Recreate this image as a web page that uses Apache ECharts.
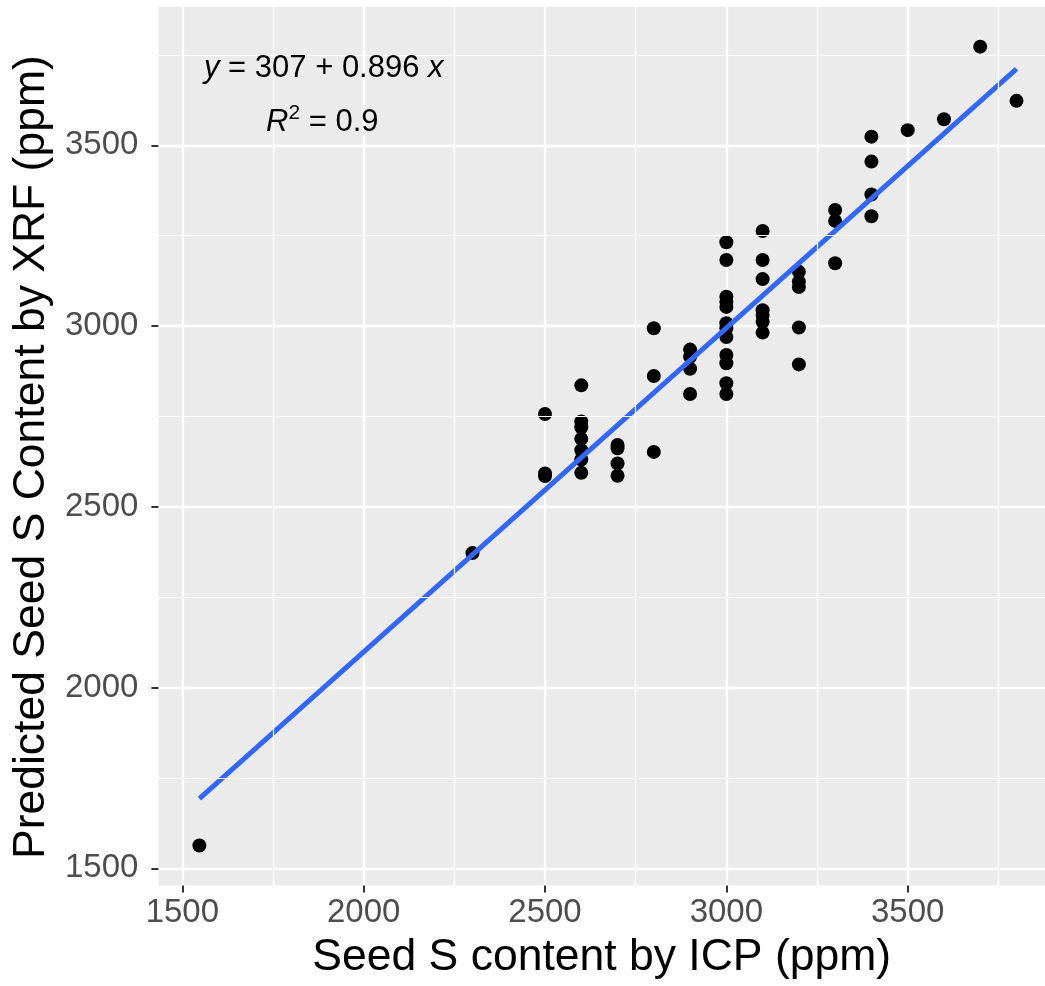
<!DOCTYPE html>
<html>
<head>
<meta charset="utf-8">
<script src="https://cdn.jsdelivr.net/npm/echarts@6/dist/echarts.min.js"></script>
<style>
  html, body { margin: 0; padding: 0; background: #ffffff; }
  #chart { width: 1045px; height: 986px; }
</style>
</head>
<body>
<div id="chart"></div>
<script>
// Seed S content by ICP (x) and predicted by XRF (y), ppm
const icpValues = [
  1547,
  2300,
  2500, 2500, 2500,
  2600, 2600, 2600, 2600, 2600, 2600, 2600,
  2700, 2700, 2700, 2700,
  2800, 2800, 2800,
  2900, 2900, 2900, 2900,
  3000, 3000, 3000, 3000, 3000, 3000, 3000, 3000, 3000, 3000, 3000, 3000,
  3100, 3100, 3100, 3100, 3100, 3100, 3100,
  3200, 3200, 3200, 3200, 3200,
  3300, 3300, 3300,
  3400, 3400, 3400, 3400,
  3500,
  3600,
  3700,
  3800
];
const xrfValues = [
  1563,
  2372,
  2757, 2592, 2585,
  2836, 2736, 2720, 2688, 2657, 2631, 2594,
  2671, 2662, 2620, 2586,
  2994, 2862, 2652,
  2935, 2915, 2882, 2812,
  3232, 3183, 3081, 3067, 3053, 3008, 2994, 2970, 2920, 2897, 2842, 2812,
  3263, 3183, 3130, 3044, 3031, 3012, 2982,
  3150, 3123, 3108, 2996, 2894,
  3321, 3291, 3174,
  3524, 3455, 3364, 3304,
  3542,
  3572,
  3773,
  3623
];
// Fitted regression line (from the annotation)
const fitIntercept = [307];
const fitSlope = [0.896];
// Axis ticks
const xMajorTicks = [1500, 2000, 2500, 3000, 3500];
const xMinorTicks = [1750, 2250, 2750, 3250, 3750];
const yMajorTicks = [1500, 2000, 2500, 3000, 3500];
const yMinorTicks = [1750, 2250, 2750, 3250, 3750];
const equationText = ['{i|y} = 307 + 0.896 {i|x}', '{i|R}{s|2} = 0.9'];

const points = icpValues.map((x, i) => [x, xrfValues[i]]);
const xMinData = Math.min(...icpValues), xMaxData = Math.max(...icpValues);
const fitLine = [
  [xMinData, fitIntercept[0] + fitSlope[0] * xMinData],
  [xMaxData, fitIntercept[0] + fitSlope[0] * xMaxData]
];

const FONT = '"Liberation Sans", Arial, Helvetica, sans-serif';

const chart = echarts.init(document.getElementById('chart'), null, { renderer: 'canvas' });
chart.setOption({
  animation: false,
  backgroundColor: '#ffffff',
  grid: {
    left: 158.4, right: 0, top: 6.7, bottom: 100.5,
    show: true, backgroundColor: '#EBEBEB', borderWidth: 0,
    containLabel: false, outerBoundsMode: 'none'
  },
  xAxis: {
    type: 'value', min: 1434, max: 3878.6,
    name: 'Seed S content by ICP (ppm)',
    nameLocation: 'middle', nameGap: 50,
    nameTextStyle: { fontFamily: FONT, fontSize: 44.5, color: '#000000' },
    axisLine: { show: false },
    axisTick: { show: true, length: 7, customValues: xMajorTicks, lineStyle: { color: '#333333', width: 2 } },
    axisLabel: { customValues: xMajorTicks, formatter: v => String(v), fontFamily: FONT, fontSize: 33, color: '#4D4D4D', margin: 11 },
    splitLine: { show: true, lineStyle: { color: '#ffffff', width: 2.4 } }
  },
  yAxis: {
    type: 'value', min: 1452.5, max: 3883.5,
    name: 'Predicted Seed S Content by XRF (ppm)',
    nameLocation: 'middle', nameGap: 89, nameRotate: 90,
    nameTextStyle: { fontFamily: FONT, fontSize: 44.5, color: '#000000', padding: [0, 22, 0, 0] },
    axisLine: { show: false },
    axisTick: { show: true, length: 7, customValues: yMajorTicks, lineStyle: { color: '#333333', width: 2 } },
    axisLabel: { customValues: yMajorTicks, formatter: v => String(v), fontFamily: FONT, fontSize: 33, color: '#4D4D4D', margin: 20 },
    splitLine: { show: true, lineStyle: { color: '#ffffff', width: 2.4 } }
  },
  series: [
    {
      type: 'line', data: [], z: 0, silent: true,
      markLine: {
        silent: true, symbol: 'none', animation: false,
        label: { show: false },
        lineStyle: { color: '#ffffff', width: 1.2, type: 'solid' },
        data: xMinorTicks.map(v => ({ xAxis: v })).concat(yMinorTicks.map(v => ({ yAxis: v })))
      }
    },
    {
      type: 'scatter', data: points, symbol: 'circle', symbolSize: 14,
      itemStyle: { color: '#000000', opacity: 1 }, z: 3
    },
    {
      type: 'line', data: fitLine, showSymbol: false, symbol: 'none',
      lineStyle: { color: '#3366FF', width: 5 }, z: 4, silent: true
    }
  ],
  graphic: [
    {
      type: 'text', left: 204, top: 53, z: 10,
      style: {
        text: equationText[0], fontFamily: FONT, fontSize: 31, fill: '#000000',
        rich: { i: { fontStyle: 'italic', fontFamily: FONT, fontSize: 31 } }
      }
    },
    {
      type: 'text', left: 266, top: 103, z: 10,
      style: {
        text: equationText[1], fontFamily: FONT, fontSize: 31, fill: '#000000', lineHeight: 38,
        rich: {
          i: { fontStyle: 'italic', fontFamily: FONT, fontSize: 31, lineHeight: 38 },
          s: { fontFamily: FONT, fontSize: 21, lineHeight: 21, verticalAlign: 'top' }
        }
      }
    }
  ]
});
</script>
</body>
</html>
